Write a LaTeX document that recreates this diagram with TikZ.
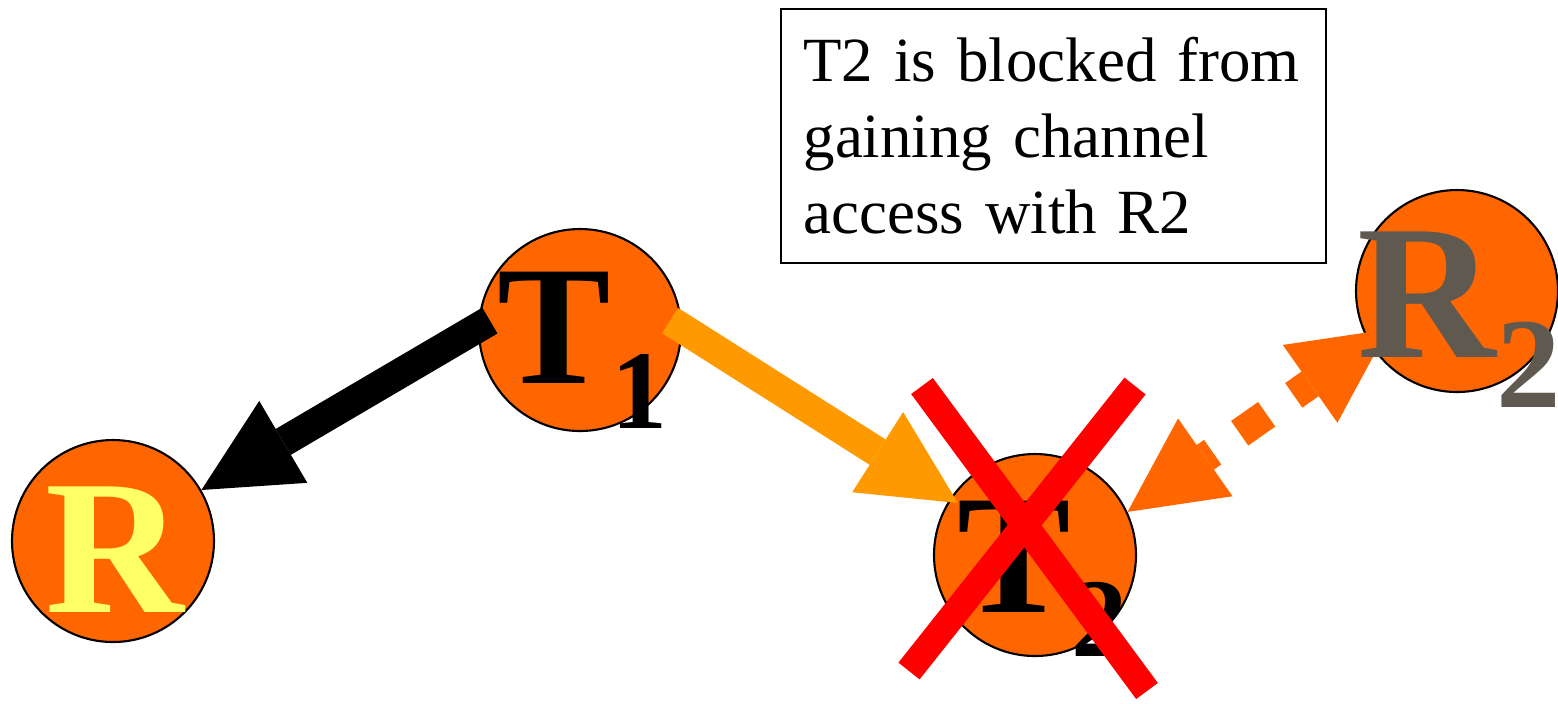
\documentclass[tikz,border=0pt]{standalone}
\usepackage{fontspec}
\setmainfont{Liberation Serif}
\usetikzlibrary{calc,arrows.meta}
\definecolor{stnorange}{HTML}{FF6600}
\definecolor{sendorange}{HTML}{FF9900}
\definecolor{rxyellow}{HTML}{FFFF66}
\definecolor{rxgray}{HTML}{605950}
\newcommand\StnLabel[5]{% size, index size, drop, letter, index
  {\fontsize{#1}{#1}\selectfont\bfseries #4}%
  \raisebox{-#3}{\fontsize{#2}{#2}\selectfont\bfseries #5}%
}
\tikzset{
  station/.style={circle,draw=black,line width=0.6pt,fill=stnorange,
    minimum size=2.02cm,inner sep=0pt},
  stnlabel/.style={anchor=base west,inner sep=0pt},
  fatarrow/.style={line width=0.30cm},
  >={Triangle[length=0.95cm,width=0.95cm,line width=0pt]}
}

\begin{document}
\begin{tikzpicture}
\useasboundingbox (0,0) rectangle (15.58,-7.03);
% stations
\node[station] (r)  at (1.13,-5.41) {};
\node[station] (t1) at (5.80,-3.30) {};
\node[station] (t2) at (10.35,-5.55) {};
\node[station] (r2) at (14.57,-2.91) {};
% note box
\node[draw,line width=0.6pt,anchor=north west,text width=5.0cm,
      inner xsep=0.225cm,inner ysep=0.285cm,align=left,
      font=\fontsize{17.9pt}{21.6pt}\selectfont] (note) at (7.80,-0.08)
      {T2 is blocked from\\ gaining channel\\ access with R2};
% transmissions
\draw[fatarrow,->] ($(t1)+(174:0.906)$) -- (r.30);
\draw[fatarrow,->,sendorange] ($(t1)+(6:0.906)$) -- ($(t2)+(146:0.93)$);
\draw[fatarrow,<->,stnorange,dash pattern=on 0.33cm off 0.33cm,dash phase=0.24cm]
      (t2.25) -- ($(r2)+(209:0.79)$);
% labels
\node[stnlabel,text=rxyellow] (rlbl) at (0.45,-6.12)
      {\fontsize{54.6pt}{54.6pt}\selectfont\bfseries R};
\node[stnlabel] (t1lbl) at (4.97,-3.83) {\StnLabel{48.4pt}{31.9pt}{0.45cm}{T}{1}};
\node[stnlabel] (t2lbl) at (9.57,-6.12) {\StnLabel{48.4pt}{31.9pt}{0.44cm}{T}{2}};
\node[stnlabel,text=rxgray] (r2lbl) at (13.57,-3.57)
      {\StnLabel{54.6pt}{36.7pt}{0.50cm}{R}{2}};
% blocked
\draw[line width=0.27cm,red] ($(t2)+(-1.13,1.69)$) -- ($(t2)+(1.12,-1.36)$);
\draw[line width=0.27cm,red] ($(t2)+(1.00,1.69)$) -- ($(t2)+(-1.26,-1.16)$);
\end{tikzpicture}
\end{document}
